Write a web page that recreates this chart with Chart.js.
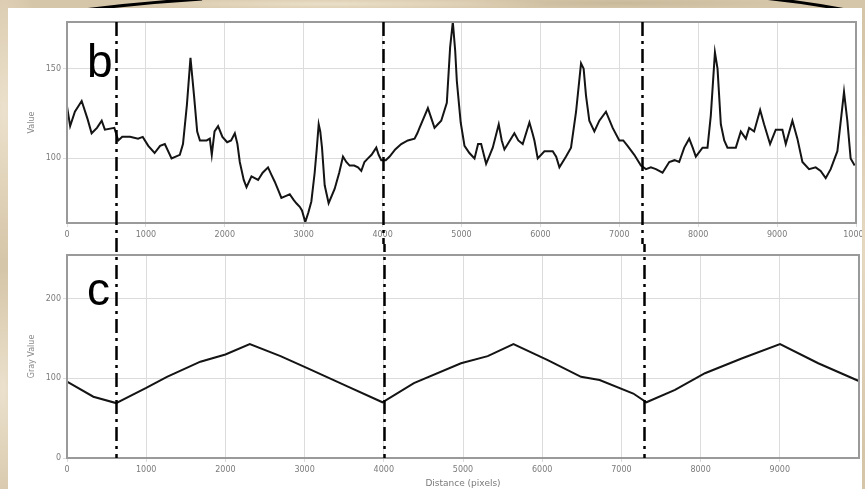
<!DOCTYPE html>
<html>
<head>
<meta charset="utf-8">
<script src="https://cdn.jsdelivr.net/npm/chart.js@4.4.0/dist/chart.umd.min.js"></script>
<style>
  html, body { margin: 0; padding: 0; }
  body {
    width: 865px; height: 489px; overflow: hidden; position: relative;
    background-color: #d6c6a9;
    background-image:
      radial-gradient(ellipse 40px 150px at 4px 110px, rgba(238,228,208,.9), rgba(238,228,208,0)),
      radial-gradient(ellipse 30px 120px at 3px 390px, rgba(240,232,214,.8), rgba(240,232,214,0)),
      radial-gradient(ellipse 220px 7px at 330px 4px, rgba(236,226,204,.9), rgba(236,226,204,0)),
      radial-gradient(ellipse 160px 6px at 620px 3px, rgba(198,182,152,.8), rgba(198,182,152,0)),
      radial-gradient(ellipse 8px 200px at 864px 250px, rgba(232,220,198,.9), rgba(232,220,198,0));
  }
  #panel { position: absolute; left: 8px; top: 8px; width: 854px; height: 481px; background: #fff; }
  #profileB { position: absolute; left: 0; top: 0; }
  #profileC { position: absolute; left: 0; top: 244px; }
</style>
</head>
<body>
<div id="panel"></div>
<canvas id="profileB" width="862" height="244"></canvas>
<canvas id="profileC" width="862" height="245"></canvas>
<script>
// Profile b: intensity value along the line (distance in pixels)
const distanceB = [0, 40, 100, 186, 260, 312, 380, 440, 480, 600, 650, 700, 800, 900, 960, 1030, 1110, 1180, 1240, 1325,
  1430, 1470, 1520, 1565, 1610, 1650, 1685, 1770, 1810, 1835, 1870, 1915, 1970, 2030, 2080, 2127, 2160, 2190, 2240, 2275,
  2338, 2380, 2422, 2480, 2548, 2590, 2633, 2680, 2717, 2770, 2823, 2870, 2907, 2950, 2978, 3020, 3060, 3097, 3139, 3165,
  3190, 3210, 3232, 3266, 3316, 3392, 3450, 3498, 3540, 3582, 3640, 3688, 3730, 3770, 3814, 3860, 3920, 3950, 3983, 4040,
  4089, 4160, 4236, 4320, 4405, 4440, 4468, 4574, 4620, 4658, 4700, 4743, 4814, 4856, 4890, 4920, 4941, 4990, 5038, 5100,
  5165, 5210, 5249, 5312, 5350, 5396, 5472, 5510, 5544, 5600, 5670, 5720, 5776, 5861, 5900, 5924, 5966, 6051, 6156, 6200,
  6241, 6325, 6388, 6452, 6515, 6548, 6578, 6620, 6684, 6747, 6831, 6916, 7000, 7050, 7105, 7190, 7274, 7338, 7400, 7464,
  7548, 7633, 7700, 7759, 7823, 7886, 7930, 7970, 8055, 8118, 8160, 8212, 8245, 8287, 8330, 8371, 8477, 8540, 8604, 8646,
  8709, 8785, 8835, 8911, 8983, 9067, 9110, 9194, 9257, 9321, 9405, 9489, 9552, 9616, 9679, 9764, 9815, 9848, 9890, 9932, 9983];
const valueB = [129, 118, 126, 132, 122, 114, 117, 121, 116, 117, 110, 112, 112, 111, 112, 107, 103, 107, 108, 100,
  102, 108, 130, 156, 135, 115, 110, 110, 111, 102, 115, 118, 112, 109, 110, 114, 108, 98, 88, 84,
  90, 89, 88, 92, 95, 91, 87, 82, 78, 79, 80, 77, 75, 73, 71, 64.5, 70, 76, 92, 105,
  119, 115, 106, 85, 75, 83, 92, 101, 98, 96, 96, 95, 93, 98, 100, 102, 106, 102, 99, 99,
  101, 105, 108, 110, 111, 114, 117, 128, 122, 117, 119, 121, 131, 162, 176, 160, 143, 120, 107, 103,
  100, 108, 108, 97, 101, 106, 119, 110, 105, 109, 114, 110, 108, 120, 114, 110, 100, 104, 104, 101,
  95, 101, 106, 126, 153, 150, 135, 121, 115, 121, 126, 117, 110, 110, 107, 102, 96, 94, 95, 94,
  92, 98, 99, 98, 106, 111, 106, 101, 106, 106, 124, 159, 150, 119, 110, 106, 106, 115, 111, 117,
  115, 127, 119, 108, 116, 116, 108, 121, 111, 98, 94, 95, 93, 89, 94, 104, 124, 137, 121, 100, 96];

// Profile c: gray value along the same line
const distanceC = [0, 333, 620, 1000, 1262, 1684, 2000, 2308, 2696, 3034, 3540, 3983, 4380, 4975, 5312, 5637,
  6070, 6490, 6725, 7150, 7316, 7677, 8055, 8518, 9003, 9485, 9990];
const grayC = [96, 77, 69, 88, 102, 121, 130, 143, 128, 113, 90, 70, 94, 119, 128, 143,
  123, 102, 98, 81, 70, 85.5, 106.5, 125, 143, 119, 97];

// Positions of the three marker lines (distance, pixels)
const markerDistances = [620, 4000, 7290];
const panelLetters = ['b', 'c'];

const TICK_COLOR = '#7a7a7a';
const GRID_COLOR = '#dcdcdc';
const FONT_FAMILY = '"DejaVu Sans", "Liberation Sans", sans-serif';

// Plot frame, dash-dot marker lines, panel letter, and corner arcs
const decorations = {
  id: 'decorations',
  beforeDraw(chart, args, opts) {
    if (!opts.arcs) return;
    const ctx = chart.ctx;
    ctx.save();
    ctx.beginPath();
    ctx.rect(0, 0, chart.width, 8);
    ctx.clip();
    ctx.strokeStyle = '#000';
    ctx.lineWidth = 3;
    ctx.beginPath();
    ctx.moveTo(88, 9.5);
    ctx.quadraticCurveTo(145, 2.5, 202, -1);
    ctx.stroke();
    ctx.beginPath();
    ctx.moveTo(768, -1.5);
    ctx.quadraticCurveTo(806, 2.5, 846, 10);
    ctx.stroke();
    ctx.restore();
  },
  afterDraw(chart, args, opts) {
    const ctx = chart.ctx;
    const a = chart.chartArea;
    const x = chart.scales.x;
    ctx.save();
    ctx.strokeStyle = '#9a9a9a';
    ctx.lineWidth = 2;
    ctx.strokeRect(a.left, a.top, a.right - a.left, a.bottom - a.top);

    ctx.fillStyle = '#000';
    ctx.font = '46px "Liberation Sans", Arial, sans-serif';
    ctx.textBaseline = 'alphabetic';
    ctx.textAlign = 'left';
    ctx.fillText(opts.letter, a.left + 20, a.top + opts.letterBaseline);

    ctx.strokeStyle = '#000';
    ctx.lineWidth = 2.5;
    ctx.setLineDash([14, 5, 3, 5]);
    ctx.lineDashOffset = opts.dashOffset;
    const y0 = opts.extendDown ? a.top : 0;
    const y1 = opts.extendDown ? chart.height : a.bottom;
    markerDistances.forEach(d => {
      const px = Math.round(x.getPixelForValue(d)) + 0.5;
      ctx.beginPath();
      ctx.moveTo(px, y0);
      ctx.lineTo(px, y1);
      ctx.stroke();
    });
    ctx.restore();
  }
};

function makeProfile(canvasId, xs, ys, o) {
  const points = xs.map((d, i) => ({ x: d, y: ys[i] }));
  return new Chart(document.getElementById(canvasId), {
    type: 'line',
    data: { datasets: [{ data: points, borderColor: '#141414', borderWidth: 2, pointRadius: 0, tension: 0, fill: false }] },
    options: {
      responsive: false,
      animation: false,
      events: [],
      layout: { padding: o.padding },
      plugins: {
        legend: { display: false },
        tooltip: { enabled: false },
        decorations: o.deco
      },
      scales: {
        x: {
          type: 'linear', min: 0, max: 10000,
          ticks: {
            stepSize: 1000, includeBounds: false, autoSkip: false, maxRotation: 0,
            color: TICK_COLOR, font: { family: FONT_FAMILY, size: 8 }, padding: 3,
            callback: v => String(v)
          },
          grid: { color: GRID_COLOR, lineWidth: 1, tickLength: 4 },
          border: { display: false },
          title: o.xTitle ? {
            display: true, text: o.xTitle, color: TICK_COLOR,
            font: { family: FONT_FAMILY, size: 9 }, padding: { top: 0, bottom: 0 }
          } : { display: false },
          afterBuildTicks(s) { s.ticks = s.ticks.filter(t => t.value <= o.lastTick); },
          afterFit(s) { s.height = o.xHeight; s.paddingLeft = 0; s.paddingRight = 0; }
        },
        y: {
          min: o.yMin, max: o.yMax,
          ticks: {
            stepSize: o.yStep, includeBounds: false,
            color: TICK_COLOR, font: { family: FONT_FAMILY, size: 8 }, padding: 2,
            callback: v => String(v)
          },
          grid: { color: GRID_COLOR, lineWidth: 1, tickLength: 4 },
          border: { display: false },
          title: {
            display: true, text: o.yTitle, color: '#8a8a8a',
            font: { family: FONT_FAMILY, size: 8 }, padding: { top: 27, bottom: 0 }
          },
          afterFit(s) { s.width = 67; s.paddingTop = 0; s.paddingBottom = 0; }
        }
      }
    },
    plugins: [decorations]
  });
}

makeProfile('profileB', distanceB, valueB, {
  padding: { top: 22, right: 6, left: 0, bottom: 0 },
  lastTick: 10000, xHeight: 21,
  yMin: 64, yMax: 176, yStep: 50, yTitle: 'Value',
  deco: { letter: panelLetters[0], letterBaseline: 55, extendDown: true, dashOffset: 0, arcs: true }
});

makeProfile('profileC', distanceC, grayC, {
  padding: { top: 11, right: 3, left: 0, bottom: 0 },
  lastTick: 9000, xHeight: 31, xTitle: 'Distance (pixels)',
  yMin: 0, yMax: 255, yStep: 100, yTitle: 'Gray Value',
  deco: { letter: panelLetters[1], letterBaseline: 50, extendDown: false, dashOffset: 6, arcs: false }
});
</script>
</body>
</html>
